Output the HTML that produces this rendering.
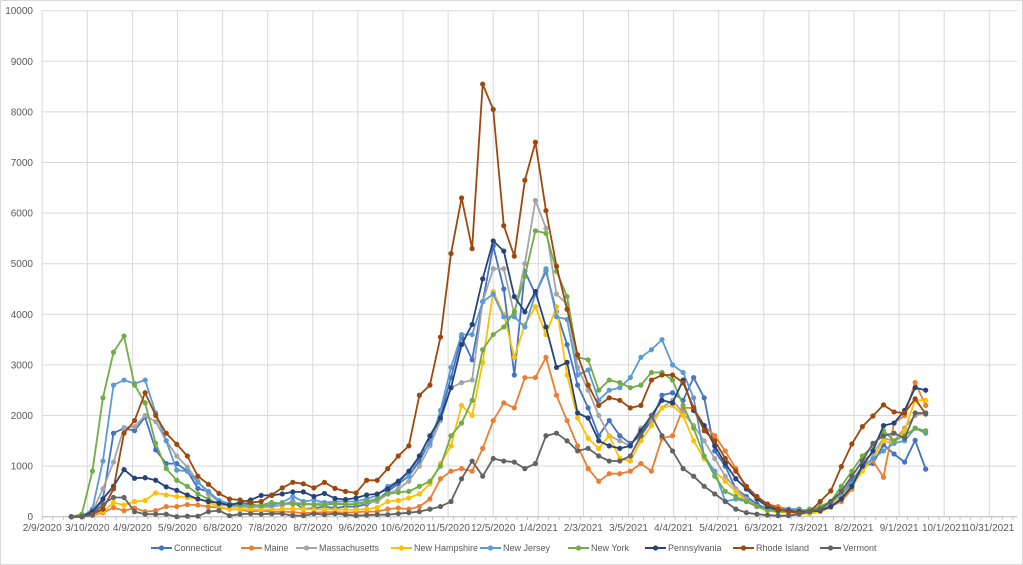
<!DOCTYPE html>
<html><head><meta charset="utf-8"><style>
body{margin:0;background:#fff;}
svg{display:block;font-family:"Liberation Sans",sans-serif;}
</style></head><body>
<svg id="c" width="1023" height="565" xmlns="http://www.w3.org/2000/svg">
<rect x="0.5" y="0.5" width="1022" height="564" fill="#fff" stroke="#d9d9d9"/>
<g id="grid"></g><g id="ser"></g><g id="lab" font-size="10" fill="#595959"></g><g id="leg" font-size="9" fill="#595959"></g>
</svg>
<script>
const NS="http://www.w3.org/2000/svg";
function el(t,a,p,txt){const e=document.createElementNS(NS,t);for(const k in a)e.setAttribute(k,a[k]);if(txt!=null)e.textContent=txt;p.appendChild(e);return e;}
const g=document.getElementById('grid'),lab=document.getElementById('lab'),ser=document.getElementById('ser'),leg=document.getElementById('leg');
const y0=516.7,ys=0.0506,x0=42.2,xr=1017;
function Y(v){return y0-v*ys;}
for(let v=0;v<=10000;v+=1000){el('line',{x1:x0,x2:xr,y1:Y(v),y2:Y(v),stroke:'#d9d9d9','stroke-width':1},g);
 el('text',{x:33,y:Y(v)+3.5,'text-anchor':'end'},lab,String(v));}
const dates=["2/9/2020","3/10/2020","4/9/2020","5/9/2020","6/8/2020","7/8/2020","8/7/2020","9/6/2020","10/6/2020","11/5/2020","12/5/2020","1/4/2021","2/3/2021","3/5/2021","4/4/2021","5/4/2021","6/3/2021","7/3/2021","8/2/2021","9/1/2021","10/1/2021","10/31/2021"];
dates.forEach((d,i)=>{const x=x0+i*45.1;el('line',{x1:x,x2:x,y1:Y(10000),y2:y0,stroke:'#d9d9d9','stroke-width':1},g);
 el('text',{x:x,y:531,'text-anchor':'middle'},lab,d);});
el('line',{x1:x0,x2:xr,y1:y0,y2:y0,stroke:'#bfbfbf'},g);
for(let x=x0;x<xr;x+=10.55)el('line',{x1:x,x2:x,y1:y0,y2:y0+3,stroke:'#bfbfbf'},g);
const S=[
["Connecticut","#4472C4",[0,0,50,350,1650,1750,1700,1970,1320,1050,1050,900,560,490,280,230,250,260,190,200,230,300,150,170,200,170,200,200,250,330,500,650,800,1100,1500,2000,2750,3550,3100,4250,5350,4500,2800,4850,4400,4850,4050,3400,2600,2150,1600,1900,1600,1450,1600,1900,2400,2450,2300,2750,2350,1300,1000,550,400,250,150,100,100,80,90,150,250,500,700,1000,1050,1420,1240,1080,1510,940]],
["Maine","#ED7D31",[0,0,30,80,180,120,170,100,120,200,200,240,230,200,180,150,140,100,120,100,100,90,70,80,90,90,80,90,100,100,150,170,150,200,350,750,900,950,900,1350,1900,2250,2150,2750,2750,3150,2400,1900,1400,950,700,850,850,900,1050,900,1550,1600,2150,2150,1800,1600,1300,950,550,350,250,200,150,150,100,100,200,300,550,1000,1100,780,1850,2000,2650,2200]],
["Massachusetts","#A5A5A5",[0,0,100,550,1080,1760,1780,2000,1880,1500,1200,980,700,450,300,200,200,180,200,200,230,280,260,250,280,250,240,250,280,300,450,550,700,1000,1400,1900,2550,2650,2700,4250,4900,4900,4000,5000,6250,5700,4400,4200,2950,2500,2000,1600,1500,1400,1750,1900,2150,2300,2050,1800,1500,1150,800,550,350,200,130,100,80,80,70,150,250,450,800,1100,1250,1550,1500,1750,2000,2050]],
["New Hampshire","#FFC000",[0,0,50,100,280,230,300,320,470,430,400,380,350,280,200,150,150,140,140,140,150,160,150,140,150,140,140,140,150,180,300,320,370,450,650,1050,1400,2200,2000,3050,4450,4000,3150,3800,4150,3600,4150,2800,1950,1550,1350,1600,1150,1100,1500,1800,2150,2200,2000,1500,1150,900,700,500,300,200,120,90,80,60,60,100,180,400,600,900,1150,1500,1450,1700,2300,2300]],
["New Jersey","#5B9BD5",[0,0,150,1100,2600,2700,2630,2700,2050,1500,920,900,680,500,320,260,240,230,220,230,280,400,300,330,280,300,300,300,350,420,600,700,800,1200,1450,2100,2950,3600,3600,4250,4400,3950,3950,3750,4400,4900,3950,3900,2800,2900,2300,2500,2550,2750,3150,3300,3500,3000,2850,2350,1200,900,300,350,300,200,150,150,150,150,100,200,300,450,650,1000,1150,1300,1450,1500,1750,1650]],
["New York","#70AD47",[0,50,900,2350,3250,3570,2600,2250,1450,950,720,600,450,350,250,220,230,220,230,280,260,250,250,240,230,260,250,250,300,350,450,480,500,600,700,1000,1600,1850,2300,3300,3600,3750,4050,4750,5650,5600,4850,4350,3150,3100,2500,2700,2650,2550,2600,2850,2850,2700,2200,1750,1200,800,500,400,300,200,130,100,100,110,150,200,300,600,900,1200,1400,1700,1500,1600,1750,1700]],
["Pennsylvania","#264478",[0,0,100,350,600,930,760,770,720,590,520,430,350,300,270,230,280,330,420,420,450,490,490,400,460,360,340,370,430,450,550,700,900,1200,1600,1950,2550,3400,3800,4700,5450,5250,4350,4050,4450,3750,2950,3050,2050,1950,1500,1400,1350,1400,1700,2000,2300,2250,2700,2100,1800,1400,1050,750,550,350,200,130,120,100,100,120,200,350,600,1000,1300,1800,1850,2100,2550,2500]],
["Rhode Island","#9E480E",[0,0,50,150,550,1650,1900,2450,2000,1650,1430,1200,800,640,460,350,330,280,300,430,570,680,650,570,680,560,500,470,720,720,950,1200,1400,2400,2600,3550,5200,6300,5300,8550,8050,5750,5150,6650,7400,6050,4950,4100,3200,2600,2200,2350,2300,2150,2200,2700,2800,2800,2650,2150,1700,1500,1150,900,600,400,250,150,100,80,100,300,510,990,1437,1780,1990,2210,2070,2050,2330,2030]],
["Vermont","#636363",[0,0,30,250,380,380,100,50,50,50,0,10,10,100,120,20,50,60,50,60,60,20,20,60,40,60,40,20,30,40,40,60,80,100,150,200,300,750,1100,800,1150,1100,1080,950,1050,1600,1650,1500,1300,1350,1200,1100,1100,1200,1600,2000,1600,1300,950,800,600,450,300,150,80,50,30,20,20,50,100,150,300,500,800,1100,1450,1600,1650,1550,2050,2050]]
];
const dx=10.548,xs0=71.3;
S.forEach(([n,c,d])=>{const pts=d.map((v,i)=>(xs0+i*dx).toFixed(1)+','+Y(v).toFixed(1)).join(' ');
 el('polyline',{points:pts,fill:'none',stroke:c,'stroke-width':1.8,'stroke-linejoin':'round'},ser);
 d.forEach((v,i)=>el('circle',{cx:xs0+i*dx,cy:Y(v),r:2.6,fill:c},ser));});
const LX=[151,241,296,391,480,568,645,733,820];
const ly=548;
S.forEach(([n,c],k)=>{const lx=LX[k];el('line',{x1:lx,x2:lx+21,y1:ly,y2:ly,stroke:c,'stroke-width':2},leg);el('circle',{cx:lx+10.5,cy:ly,r:2.6,fill:c},leg);
 el('text',{x:lx+23,y:ly+3.2},leg,n);});
</script>
</body></html>
